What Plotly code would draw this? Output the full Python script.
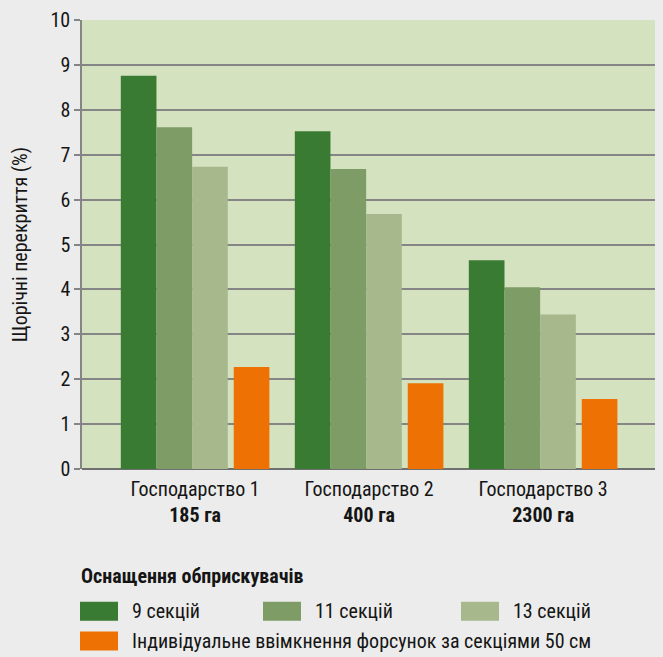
import plotly.graph_objects as go

# ---- data ----
farms = ["Господарство 1", "Господарство 2", "Господарство 3"]
areas = ["185 га", "400 га", "2300 га"]
series_names = ["9 секцій", "11 секцій", "13 секцій",
                "Індивідуальне ввімкнення форсунок за секціями 50 см"]
sec9 = [8.76, 7.52, 4.65]
sec11 = [7.61, 6.68, 4.05]
sec13 = [6.73, 5.68, 3.44]
individual = [2.27, 1.91, 1.56]
y_title = "Щорічні перекриття (%)"
legend_title = "Оснащення обприскувачів"

# ---- style ----
colors = ["#3a7b34", "#7e9c65", "#a6b88c", "#ee7203"]
offsets = [-0.427, -0.222, -0.017, 0.222]
bar_w = 0.205
FONT = "Liberation Sans Narrow, Arial Narrow, Roboto Condensed, sans-serif"
W, H = 663, 657
ML, MR, MT, MB = 82, 8, 16, 188
PW, PH = W - ML - MR, H - MT - MB


def px(x):
    return (x - ML) / PW


def py(y):
    return (H - MB - y) / PH


fig = go.Figure()
values = [sec9, sec11, sec13, individual]
for name, vals, col, off in zip(series_names, values, colors, offsets):
    fig.add_trace(go.Bar(
        x=farms, y=vals, name=name, marker=dict(color=col, line=dict(width=0)),
        offset=off, width=bar_w, showlegend=False,
    ))

# manual legend
fig.add_annotation(x=px(79), y=py(577), xref="paper", yref="paper",
                   text=f"<b>{legend_title}</b>", showarrow=False,
                   xanchor="left", yanchor="middle",
                   font=dict(family=FONT, size=20, color="#151515"))
leg_pos = [(80, 603), (263, 603), (461, 603), (80, 633)]
for name, col, (lx, ly) in zip(series_names, colors, leg_pos):
    fig.add_shape(type="rect", xref="paper", yref="paper",
                  x0=px(lx), x1=px(lx + 38), y0=py(ly), y1=py(ly + 19),
                  fillcolor=col, line=dict(width=0), layer="above")
    fig.add_annotation(x=px(lx + 50), y=py(ly + 9.5), xref="paper", yref="paper",
                       text=name, showarrow=False, xanchor="left", yanchor="middle",
                       font=dict(family=FONT, size=20, color="#151515"))

fig.update_layout(
    width=W, height=H,
    margin=dict(l=ML, r=MR, t=MT, b=MB),
    paper_bgcolor="#ececec",
    plot_bgcolor="#d5e2bf",
    barmode="overlay",
    font=dict(family=FONT, size=20, color="#151515"),
    xaxis=dict(
        range=[-0.65, 2.643],
        tickvals=farms,
        ticktext=[f"{f}<br><b>{a}</b>" for f, a in zip(farms, areas)],
        showgrid=False, zeroline=False, showline=False, ticks="",
        ticklabelstandoff=6,
        tickfont=dict(family=FONT, size=20, color="#151515"),
    ),
    yaxis=dict(
        range=[0, 10], dtick=1,
        showgrid=True, gridcolor="#858585", gridwidth=1.5,
        zeroline=True, zerolinecolor="#6f6f6f", zerolinewidth=1.5,
        showline=True, linecolor="#858585", linewidth=1.5,
        ticks="outside", ticklen=6, tickcolor="#858585", tickwidth=1.5,
        tickfont=dict(family=FONT, size=20, color="#151515"),
        title=dict(text=y_title, font=dict(family=FONT, size=20, color="#151515"),
                   standoff=18),
    ),
)

fig.write_html(
    "out.html",
    config={"displayModeBar": False},
    post_script="document.body.style.margin='0';document.body.style.background='#ececec';",
)
